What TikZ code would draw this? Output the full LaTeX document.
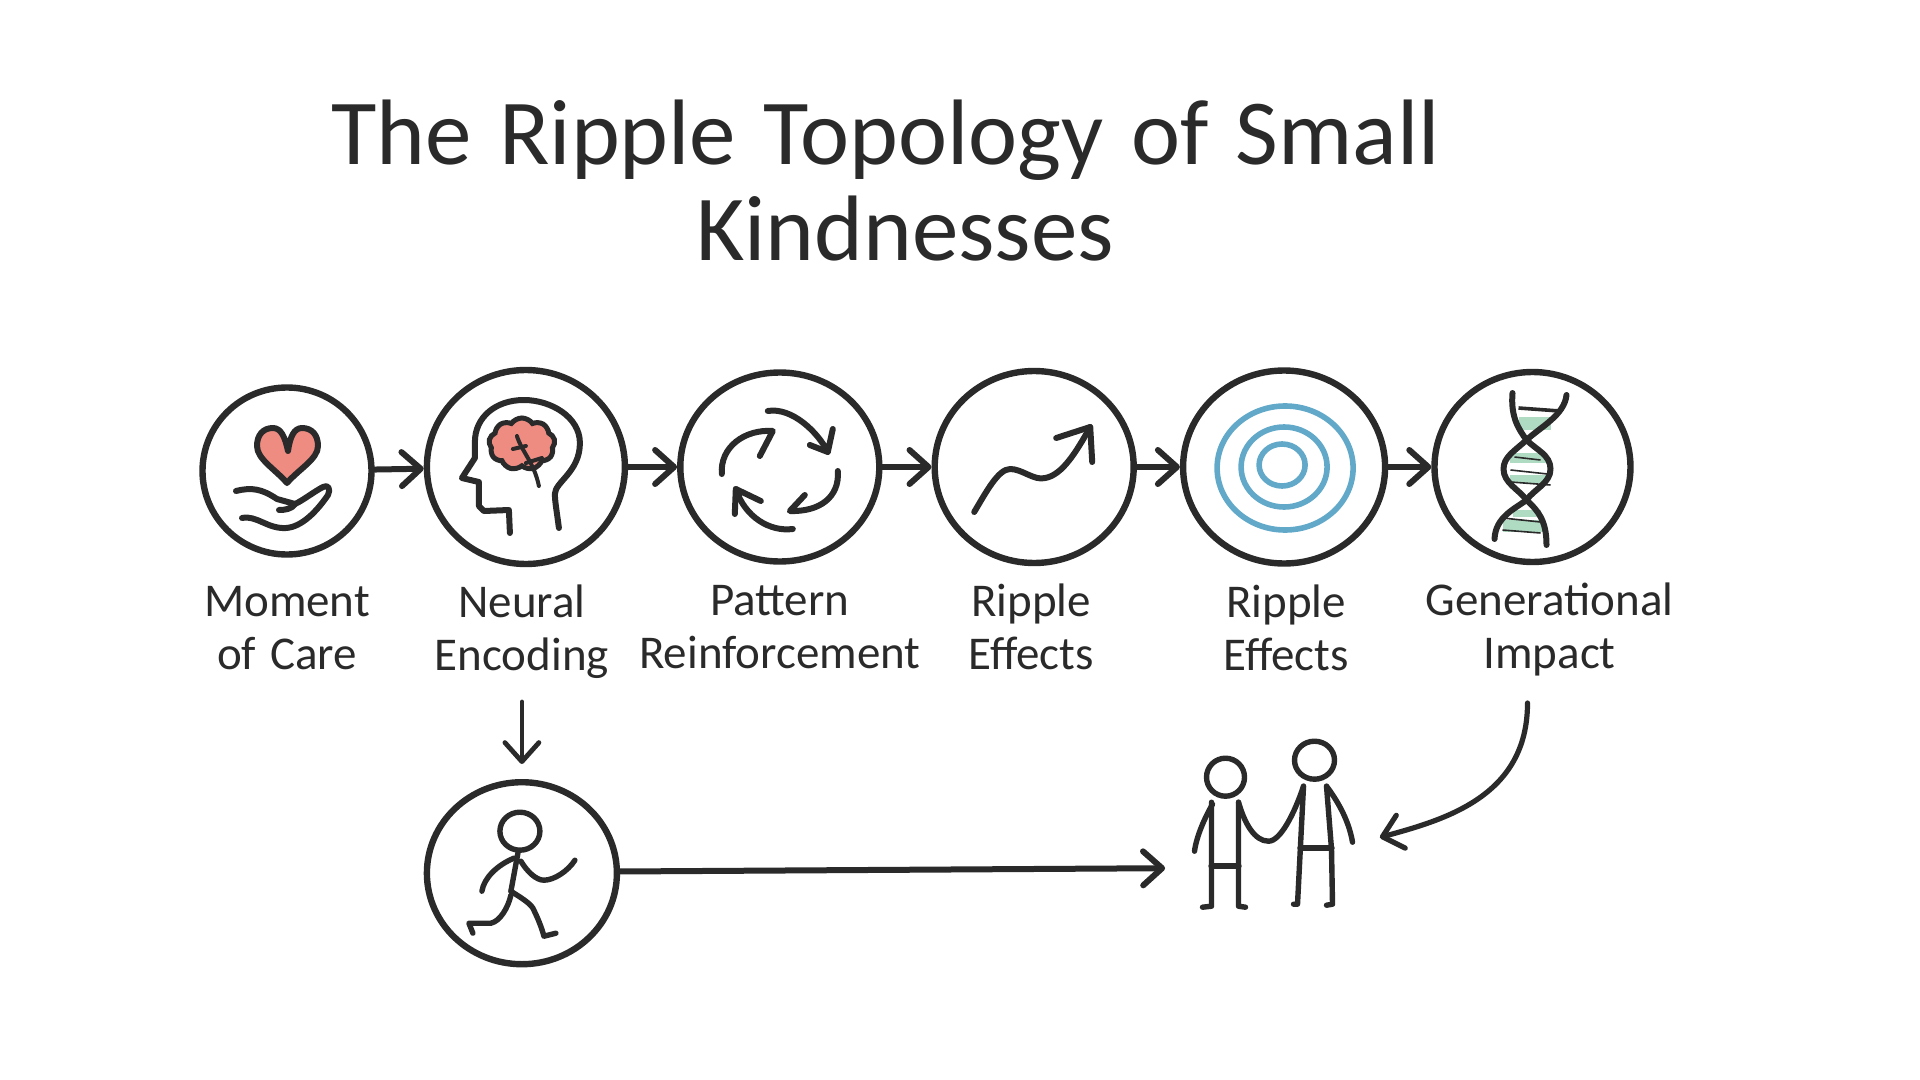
\documentclass[tikz,border=0pt]{standalone}
\usepackage{fontspec}
\setmainfont[WordSpace=1.3]{Carlito}
\usetikzlibrary{positioning,arrows.meta,shapes.geometric,shapes.symbols}
\definecolor{ink}{HTML}{2A2A2A}
\definecolor{salmon}{HTML}{EE8C82}
\definecolor{ringblue}{HTML}{62A9C9}
\definecolor{helixgreen}{HTML}{B0DBC3}

\begin{document}
\begin{tikzpicture} [
    x=0.5pt, y=-0.5pt,
    stage/.style    = { ellipse, draw=ink, line width=3.2pt, inner sep=0pt, anchor=center },
    caption/.style  = { align=center, text=ink, inner sep=0pt, text height=39.5pt, text depth=13.5pt,
                        font=\fontsize{23.5}{26.5}\selectfont },
    line/.style     = { draw=ink, line width=3pt, line cap=round,
                        -{Straight Barb[length=9.5pt,width=17pt,round]} },
    icon/.style     = { draw=ink, line width=3pt, line cap=round, line join=round },
    stick/.style    = { icon, line width=2.7pt },
    fine/.style     = { draw=ink, line width=0.8pt },
  ]
  \useasboundingbox (0,0) rectangle (1920,1080);

  \node (title) [anchor=base, align=center, text=ink, inner sep=0pt,
                 font=\fontsize{46.5}{48}\selectfont] at (886,261)
    {The Ripple Topology of Small\\\hspace*{19pt}Kindnesses};

  % Define nodes in matrix
  \matrix (stages) [column sep=24.5pt] at (916.5,467) {
\node[stage, minimum width=84.5pt, minimum height=83.5pt, yshift=-2pt](care){}; &
\node[stage, minimum width=99pt, minimum height=97pt](encode){}; &
\node[stage, minimum width=99.5pt, minimum height=94.5pt](pattern){}; &
\node[stage, minimum width=99.5pt, minimum height=96pt](effects){}; &[-3pt]
\node[stage, minimum width=101pt, minimum height=96.5pt](rings){}; &[-3pt]
\node[stage, minimum width=98pt, minimum height=95pt](helix){}; \\
  };

  % labels below the circles
  \node (caretext) [caption, below=16pt of care] {Moment\\of Care};
  \node (encodetext) [caption, below=12pt of encode, xshift=-2pt] {Neural\\Encoding};
  \node (patterntext) [caption, below=12pt of pattern] {Pattern\\Reinforcement};
  \node (effectstext) [caption, below=12pt of effects, xshift=-1.5pt] {Ripple\\Effects};
  \node (ringstext) [caption, below=12pt of rings, xshift=1pt] {Ripple\\Effects};
  \node (impacttext) [caption, below=12pt of helix, xshift=8.5pt] {Generational\\Impact};

  % bottom row
  \node (runner) [stage, minimum width=95pt, minimum height=91pt, below=40.5pt of encodetext] {};
  \node (pair) [minimum width=107pt, minimum height=128pt, inner sep=0pt,
                right=272.5pt of runner, yshift=2.5pt] {};

  % connect the nodes
  \path [line] (care) -- (encode);
  \path [line] (encode) -- (pattern);
  \path [line] (pattern) -- (effects);
  \path [line] (effects) -- (rings);
  \path [line] (rings) -- (helix);
  \path [line, line width=2.4pt, shorten <=2pt, shorten >=7.5pt] (encodetext) -- (runner);
  \path [line] (runner.1) -- (pair.west);
  \path [line, line width=2.6pt, shorten <=3.5pt] ([xshift=-11pt]impacttext.south)
    .. controls +(0,100) and +(66,-18) .. (pair.16);

  % heart on a hand
  \begin{scope}[shift={(care.center)}]
    \draw [icon, fill=salmon] (1,-20) .. controls (-2,-34) and (-6,-43) .. (-14,-43)
      .. controls (-24,-43) and (-30,-36) .. (-30,-25) .. controls (-30,-12) and (-12,-2) .. (0,12)
      .. controls (12,-2) and (31,-12) .. (31,-25) .. controls (31,-36) and (25,-43) .. (15,-43)
      .. controls (7,-43) and (3,-34) .. (1,-20) -- cycle;
    \draw [icon] (-51,20) .. controls (-35,16) and (-25,18) .. (-10,28) -- (8,33)
      .. controls (5,38) and (-2,39) .. (-8,39);
    \draw [icon] (-45,47) .. controls (-30,44) and (-20,58) .. (-1,57)
      .. controls (15,56) and (30,40) .. (41,24) .. controls (44,18) and (41,13) .. (36,16)
      .. controls (28,20) and (15,30) .. (8,33);
  \end{scope}

  % head with brain
  \begin{scope}[shift={(encode.center)}]
    \draw [icon] (33,61) .. controls (31,45) and (29,35) .. (29,27)
      .. controls (29,15) and (54,5) .. (54,-24) .. controls (54,-50) and (25,-67) .. (-2,-67)
      .. controls (-30,-67) and (-51,-50) .. (-51,-25) -- (-51,-9) -- (-64,11) -- (-47,15)
      -- (-47,39) -- (-42,44) -- (-17,43) -- (-16,66);
    \node (brain) [cloud, cloud puffs=9, cloud puff arc=110, cloud ignores aspect, draw=ink, fill=salmon,
                   line width=2.5pt, inner sep=0pt, minimum width=33pt, minimum height=26pt] at (-4,-23) {};
    \draw [icon, line width=2pt] (-9,-31) .. controls (-4,-15) and (8,-5) .. (13,19);
    \draw [icon, line width=2pt] (-13,-18) -- (0,-21);
    \draw [icon, line width=2pt] (0,-4) -- (16,-9);
  \end{scope}

  % cycle of arrows
  \begin{scope}[shift={(pattern.center)}]
    \draw [icon] (-12,-56) .. controls (12,-60) and (38,-35) .. (48,-15) -- (53,-38);
    \draw [icon] (48,-15) -- (30,-22);
    \draw [icon] (58,4) .. controls (60,30) and (40,45) .. (10,44) -- (25,28);
    \draw [icon] (13,62) .. controls (-10,65) and (-35,50) .. (-44,22) -- (-19,34);
    \draw [icon] (-44,22) -- (-45,47);
    \draw [icon] (-58,7) .. controls (-60,-20) and (-35,-38) .. (-7,-36) -- (-20,-11);
  \end{scope}

  % rising line
  \begin{scope}[shift={(effects.center)}]
    \draw [icon] (-60,45) .. controls (-48,25) and (-36,2) .. (-24,2)
      .. controls (-12,2) and (0,14) .. (11,11) .. controls (28,8) and (42,-15) .. (56,-40);
    \draw [icon] (22,-29) -- (56,-40) -- (58,-5);
  \end{scope}

  % concentric rings
  \begin{scope}[shift={(rings.center)}]
    \draw [ringblue, line width=2.8pt] (1,1) ellipse (68 and 62);
    \draw [ringblue, line width=2.8pt] (0,0) ellipse (43 and 40);
    \draw [ringblue, line width=2.8pt] (-2,-2) ellipse (23 and 21);
  \end{scope}

  % double helix
  \begin{scope}[shift={(helix.center)}]
    \fill [helixgreen] (-14,-50) rectangle (18,-37);
    \fill [helixgreen] (-23,-14) rectangle (13,-4);
    \fill [helixgreen] (-23,8) rectangle (15,16);
    \fill [helixgreen] (-20,43) rectangle (8,50);
    \fill [helixgreen] (-30,53) rectangle (10,65);
    \draw [fine, line width=1.8pt] (-14,-59) -- (27,-56);
    \draw [fine] (-18,-10) -- (8,-7);
    \draw [fine] (-22,3) -- (15,7);
    \draw [fine] (-22,15) -- (18,18);
    \draw [fine] (-30,51) -- (8,55);
    \draw [fine] (-30,63) -- (8,66);
    \draw [icon] (-20,-74) .. controls (-22,-50) and (-14,-38) .. (-6,-27)
      .. controls (4,-17) and (18,-12) .. (18,2) .. controls (18,16) and (2,22) .. (-6,33)
      .. controls (-18,42) and (-37,50) .. (-38,72);
    \draw [icon] (34,-72) .. controls (32,-52) and (8,-40) .. (-6,-27)
      .. controls (-18,-16) and (-29,-10) .. (-29,2) .. controls (-29,16) and (-14,22) .. (-6,33)
      .. controls (6,44) and (14,54) .. (14,78);
  \end{scope}

  % running figure
  \begin{scope}[shift={(runner.center)}]
    \draw [stick] (-2,-42) ellipse (20 and 19);
    \draw [stick] (-4,-20) -- (-11,18);
    \draw [stick] (-8,-15) .. controls (-25,-8) and (-38,5) .. (-40,18);
    \draw [stick] (-1,-12) .. controls (5,-2) and (14,7) .. (22,7)
      .. controls (32,7) and (46,-2) .. (53,-13);
    \draw [stick] (-11,18) .. controls (0,25) and (8,30) .. (11,35)
      .. controls (16,45) and (20,55) .. (22,63) -- (34,60);
    \draw [stick] (-11,22) .. controls (-14,35) and (-22,48) .. (-31,50)
      -- (-53,50) -- (-49,60);
  \end{scope}

  % two figures holding hands
  \begin{scope}[shift={(pair.center)}]
    \draw [stick] (-47,-91) ellipse (19 and 19);
    \draw [stick] (-70,39) -- (-61,38) -- (-61,-66);
    \draw [stick] (-27,39) -- (-34,38) -- (-34,-66);
    \draw [stick, line width=3.2pt] (-61,-2) -- (-34,-2);
    \draw [stick] (-60,-64) .. controls (-68,-50) and (-76,-32) .. (-78,-17);
    \draw [stick] (-34,-66) .. controls (-28,-45) and (-18,-27) .. (-4,-27)
      .. controls (8,-27) and (22,-55) .. (31,-82);
    \draw [stick] (42,-108) ellipse (20 and 19);
    \draw [stick] (21,36) -- (25,36) -- (31,-82);
    \draw [stick] (54,37) -- (60,36) -- (59,-19) -- (54,-82);
    \draw [stick, line width=3.2pt] (28,-20) -- (59,-20);
    \draw [stick] (54,-82) .. controls (63,-70) and (76,-50) .. (80,-26);
  \end{scope}
\end{tikzpicture}
\end{document}
